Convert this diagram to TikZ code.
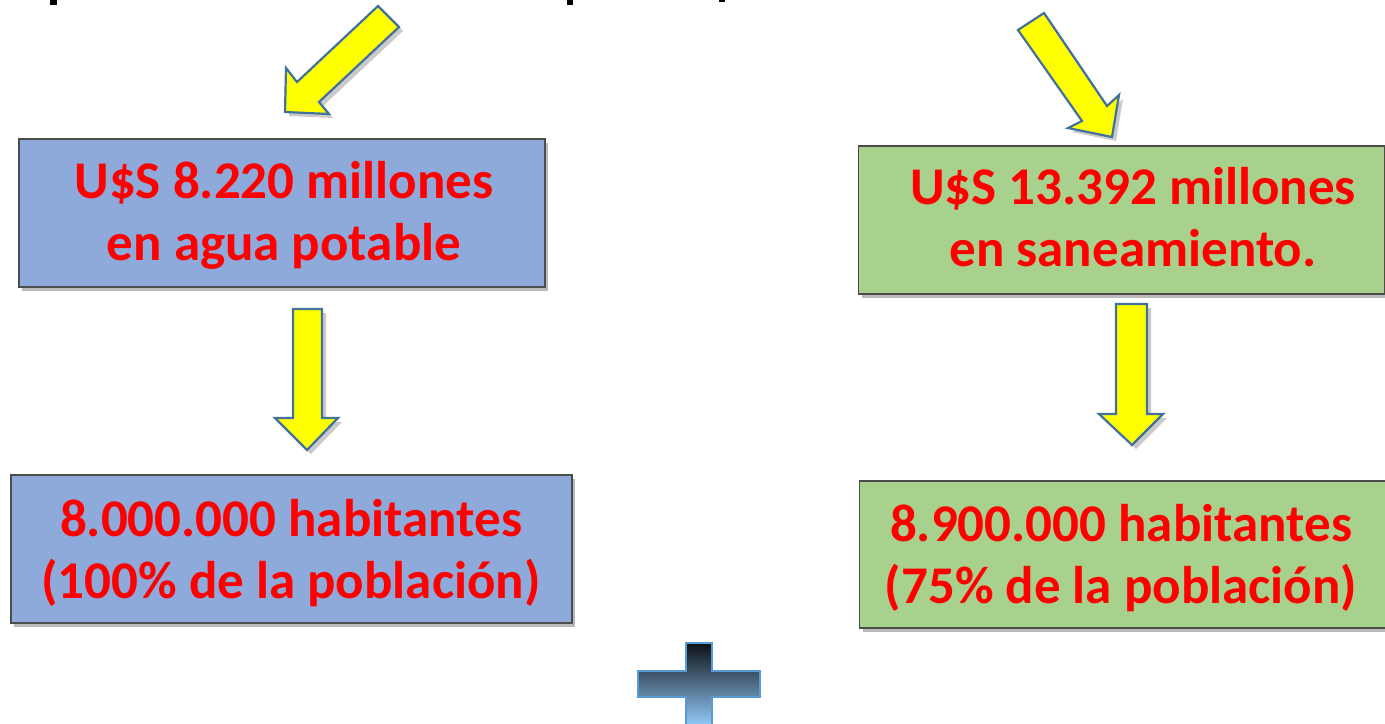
\documentclass[tikz,border=0pt]{standalone}
\usepackage{fontspec}
\setmainfont{Carlito}
\usetikzlibrary{shadows}
\definecolor{boxblue}{HTML}{8EAADB}
\definecolor{boxgreen}{HTML}{A9D18E}
\definecolor{txtred}{HTML}{FF0000}
\definecolor{arrowline}{HTML}{41719C}
\definecolor{arrowfill}{HTML}{FFFF00}
\definecolor{plustop}{HTML}{0D1117}
\definecolor{plusbot}{HTML}{93CBFA}
\definecolor{plusline}{HTML}{5B9BD5}
\tikzset{
  infobox/.style={draw=black!70, line width=0.8pt, inner sep=0pt,
    drop shadow={shadow xshift=1.5pt, shadow yshift=-2pt, opacity=0.45, fill=black!60}},
  infotext/.style={text=txtred, align=center, inner sep=0pt,
    font=\bfseries\fontsize{26.5}{31}\selectfont},
  blockarrow/.style={fill=arrowfill, draw=arrowline, line width=1.1pt, line join=miter,
    drop shadow={shadow xshift=2pt, shadow yshift=-2pt, opacity=0.35, fill=black!60}},
  fragment/.style={fill=black, draw=none}
}
\begin{document}
\begin{tikzpicture}[x=0.5pt,y=-0.5pt]
\useasboundingbox (0,0) rectangle (1385,723);
% cut-off fragments of text at the top edge
\fill[fragment] (50,0) rectangle (57,5);
\fill[fragment] (567,0) rectangle (573,5);
\fill[fragment] (719,0) rectangle (725,2);
% boxes
\node[infobox, fill=boxblue, minimum width=263pt, minimum height=74pt] (b1) at (282,213) {};
\node[infobox, fill=boxgreen, minimum width=263pt, minimum height=74pt] (b2) at (1121.5,220) {};
\node[infobox, fill=boxblue, minimum width=280.5pt, minimum height=74pt] (b3) at (291.5,549) {};
\node[infobox, fill=boxgreen, minimum width=263pt, minimum height=73.5pt] (b4) at (1122.5,554.5) {};
% texts
\node[infotext] (t1) at (284,215.5) {U\$S 8.220 millones\\en agua potable};
\node[infotext] (t2) at (1133,217) {U\$S 13.392 millones\\en saneamiento.};
\node[infotext] (t3) at (291,553.5) {8.000.000 habitantes\\(100\% de la población)};
\node[infotext] (t4) at (1121,558.5) {8.900.000 habitantes\\(75\% de la población)};
% arrows
\path[blockarrow] (378,6) -- (399,27) -- (319,102) -- (329,114) -- (285,112) -- (286,68) -- (297,82) -- cycle;
\path[blockarrow] (1018,30) -- (1044,13) -- (1107,106) -- (1119,95) -- (1112,137) -- (1068,128) -- (1082,121) -- cycle;
\path[blockarrow] (293,309) -- (322,309) -- (322,418) -- (338,418) -- (307,450) -- (275,418) -- (293,418) -- cycle;
\path[blockarrow] (1116,304) -- (1147,304) -- (1147,414) -- (1163,414) -- (1132,445) -- (1099,414) -- (1116,414) -- cycle;
% plus sign
\shadedraw[top color=plustop, bottom color=plusbot, draw=plusline, line width=0.8pt]
  (686,643) -- (712,643) -- (712,671) -- (760,671) -- (760,697) -- (712,697) -- (712,726)
  -- (686,726) -- (686,697) -- (638,697) -- (638,671) -- (686,671) -- cycle;
\end{tikzpicture}
\end{document}
